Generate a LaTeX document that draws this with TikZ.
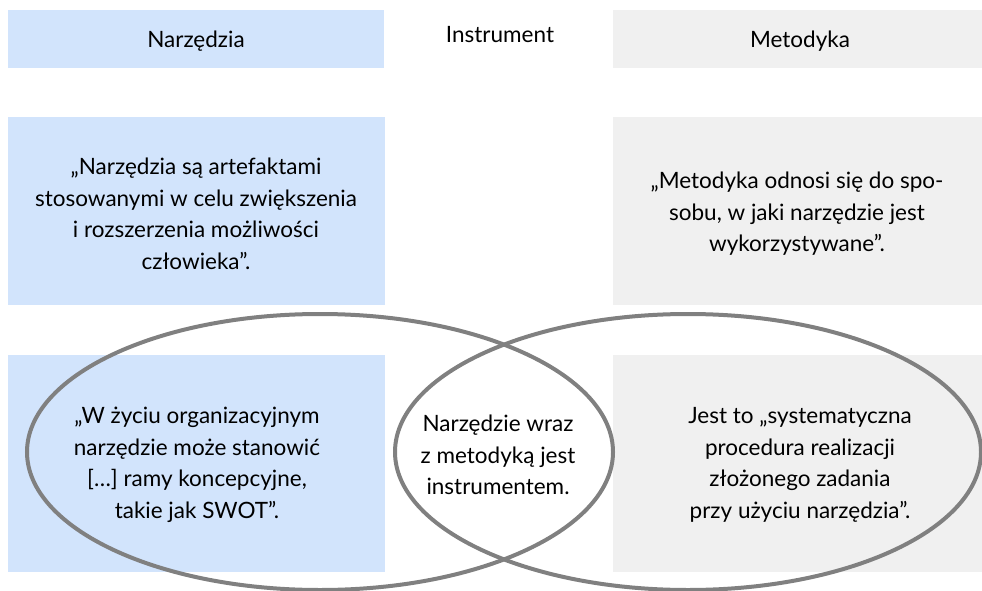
\documentclass[tikz,border=0pt]{standalone}
\usepackage{fontspec}
\setmainfont{Lato}
\definecolor{boxblue}{RGB}{210,228,252}
\definecolor{boxgray}{RGB}{240,240,240}
\definecolor{ringgray}{RGB}{128,128,128}
\begin{document}
\begin{tikzpicture}[x=1pt,y=-1pt,
  bluebox/.style={fill=boxblue,draw=none},
  graybox/.style={fill=boxgray,draw=none},
  ring/.style={draw=ringgray,line width=4pt},
  txt/.style={align=center,font=\fontsize{22.5}{31.5}\selectfont,text=black}]
\useasboundingbox (0,0) rectangle (982,591);
% header row
\fill[bluebox] (8,10) rectangle (384,68);
\fill[graybox] (613,10) rectangle (982,68);
% second row
\fill[bluebox] (8,117) rectangle (385,305);
\fill[graybox] (613,117) rectangle (982,305);
% third row
\fill[bluebox] (8,355) rectangle (385,572);
\fill[graybox] (613,355) rectangle (982,572);
% ellipses
\draw[ring] (320,452) ellipse [x radius=293, y radius=138];
\draw[ring] (688,452) ellipse [x radius=293, y radius=138];
% texts
\node[txt] (h1) at (196,41) {Narzędzia};
\node[txt] (h2) at (500,35) {Instrument};
\node[txt] (h3) at (800,41) {Metodyka};
\node[txt] (t1) at (196,214) {„Narzędzia są artefaktami\\stosowanymi w celu zwiększenia\\i rozszerzenia możliwości\\człowieka”.};
\node[txt] (t2) at (797,214) {„Metodyka odnosi się do spo-\\sobu, w jaki narzędzie jest\\wykorzystywane”.};
\node[txt] (t3) at (197,465) {„W życiu organizacyjnym\\narzędzie może stanowić\\{[\dots]} ramy koncepcyjne,\\takie jak SWOT”.};
\node[txt] (t4) at (498,455) {Narzędzie wraz\\z metodyką jest\\instrumentem.};
\node[txt] (t5) at (800,465) {Jest to „systematyczna\\procedura realizacji\\złożonego zadania\\przy użyciu narzędzia”.};
\end{tikzpicture}
\end{document}
